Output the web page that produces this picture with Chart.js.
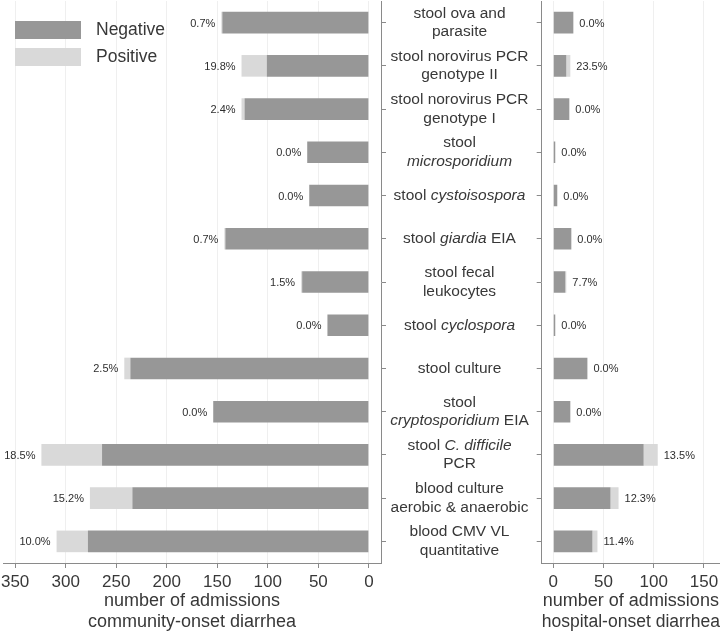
<!DOCTYPE html>
<html lang="en">
<head>
  <meta charset="UTF-8">
  <title>Diarrhea workup by onset</title>
  <script src="https://cdn.jsdelivr.net/npm/chart.js"></script>
  <style>
    html, body { margin: 0; padding: 0; background: #fff; }
    #wrap { position: relative; width: 720px; height: 633px; }
    #leftChart { position: absolute; left: 0; top: 0; }
    #rightChart { position: absolute; left: 387px; top: 0; }
  </style>
</head>
<body>
  <div id="wrap">
    <canvas id="leftChart" width="387" height="633"></canvas>
    <canvas id="rightChart" width="333" height="633"></canvas>
  </div>

  <script>
    // Test names, one entry per line, *...* marks italic text
    const tests = [
      ['stool ova and', 'parasite'],
      ['stool norovirus PCR', 'genotype II'],
      ['stool norovirus PCR', 'genotype I'],
      ['stool', '*microsporidium*'],
      ['stool *cystoisospora*'],
      ['stool *giardia* EIA'],
      ['stool fecal', 'leukocytes'],
      ['stool *cyclospora*'],
      ['stool culture'],
      ['stool', '*cryptosporidium* EIA'],
      ['stool *C. difficile*', 'PCR'],
      ['blood culture', 'aerobic & anaerobic'],
      ['blood CMV VL', 'quantitative']
    ];

    // Community-onset diarrhea (left panel)
    const communityNeg = [145, 101, 123, 61, 59, 142, 66, 41, 236, 154, 264, 234, 278];
    const communityPos = [1, 25, 3, 0, 0, 1, 1, 0, 6, 0, 60, 42, 31];
    const communityPct = ['0.7%', '19.8%', '2.4%', '0.0%', '0.0%', '0.7%', '1.5%', '0.0%', '2.5%', '0.0%', '18.5%', '15.2%', '10.0%'];

    // Hospital-onset diarrhea (right panel)
    const hospitalNeg = [20, 13, 16, 2, 4, 18, 12, 2, 34, 17, 90, 57, 39];
    const hospitalPos = [0, 4, 0, 0, 0, 0, 1, 0, 0, 0, 14, 8, 5];
    const hospitalPct = ['0.0%', '23.5%', '0.0%', '0.0%', '0.0%', '0.0%', '7.7%', '0.0%', '0.0%', '0.0%', '13.5%', '12.3%', '11.4%'];

    const seriesNames = ['Negative', 'Positive'];
    const seriesColors = ['#979797', '#d9d9d9'];

    const FONT = '"Liberation Sans", Arial, sans-serif';
    const TEXT = '#383838';
    const AXIS = '#8a8a8a';
    const GRID = '#efefef';

    // percent labels at the end of each bar
    const pctLabels = {
      id: 'pctLabels',
      afterDatasetsDraw(chart, args, opts) {
        const { ctx, scales: { x, y } } = chart;
        const neg = chart.data.datasets[0].data;
        const pos = chart.data.datasets[1].data;
        ctx.save();
        ctx.font = '11px ' + FONT;
        ctx.fillStyle = '#2e2e2e';
        ctx.textBaseline = 'middle';
        ctx.textAlign = opts.side === 'left' ? 'right' : 'left';
        opts.texts.forEach((t, i) => {
          const end = x.getPixelForValue(neg[i] + pos[i]);
          const px = opts.side === 'left' ? end - 6 : end + 6;
          ctx.fillText(t, px, y.getPixelForValue(i) + 1);
        });
        ctx.restore();
      }
    };

    // legend boxes in the top left corner
    const boxLegend = {
      id: 'boxLegend',
      afterDraw(chart) {
        const ctx = chart.ctx;
        ctx.save();
        ctx.font = '17.5px ' + FONT;
        ctx.textBaseline = 'middle';
        ctx.textAlign = 'left';
        chart.data.datasets.forEach((ds, i) => {
          const top = 21 + i * 27;
          ctx.fillStyle = ds.backgroundColor;
          ctx.fillRect(15, top, 66, 18);
          ctx.fillStyle = TEXT;
          ctx.fillText(ds.label, 96, top + 9);
        });
        ctx.restore();
      }
    };

    // category names between the two panels, with italic parts
    const testNames = {
      id: 'testNames',
      afterDraw(chart) {
        const { ctx, scales: { y } } = chart;
        const cx = 72.5;
        const lineGap = 18.5;
        ctx.save();
        ctx.fillStyle = TEXT;
        ctx.textBaseline = 'middle';
        ctx.textAlign = 'left';
        tests.forEach((lines, i) => {
          const yc = y.getPixelForTick(i);
          lines.forEach((line, k) => {
            const ly = yc + (k - (lines.length - 1) / 2) * lineGap;
            const parts = line.split('*').map((s, j) => ({ s, it: j % 2 === 1 })).filter(p => p.s);
            let w = 0;
            parts.forEach(p => {
              ctx.font = (p.it ? 'italic ' : '') + '15.5px ' + FONT;
              p.w = ctx.measureText(p.s).width;
              w += p.w;
            });
            let x = cx - w / 2;
            parts.forEach(p => {
              ctx.font = (p.it ? 'italic ' : '') + '15.5px ' + FONT;
              ctx.fillText(p.s, x, ly);
              x += p.w;
            });
          });
        });
        ctx.restore();
      }
    };

    function makeDatasets(neg, pos) {
      return [
        { label: seriesNames[0], data: neg, backgroundColor: seriesColors[0] },
        { label: seriesNames[1], data: pos, backgroundColor: seriesColors[1] }
      ];
    }

    function makeChart(canvasId, side, neg, pos, pct, xMin, xMax, title, extraPlugins, yWidth) {
      return new Chart(document.getElementById(canvasId), {
        type: 'bar',
        data: {
          labels: tests.map(t => t.join(' ').replace(/\*/g, '')),
          datasets: makeDatasets(neg, pos)
        },
        options: {
          responsive: false,
          animation: false,
          indexAxis: 'y',
          categoryPercentage: 1,
          barPercentage: 0.5,
          borderWidth: 0,
          layout: { padding: { top: 1, left: side === 'left' ? 3 : 0, right: 0, bottom: 0 } },
          scales: {
            x: {
              stacked: true,
              reverse: side === 'left',
              min: xMin,
              max: xMax,
              ticks: {
                stepSize: 50,
                includeBounds: false,
                color: TEXT,
                font: { family: FONT, size: 17 },
                padding: 4
              },
              grid: { color: GRID, tickColor: AXIS, tickLength: 5 },
              border: { color: AXIS },
              title: {
                display: true,
                text: title,
                color: TEXT,
                font: { family: FONT, size: 18, lineHeight: 1.2 },
                padding: { top: 0, bottom: 0 }
              },
              afterFit(scale) {
                scale.height = 70;
                scale.paddingLeft = 0;
                scale.paddingRight = 0;
              }
            },
            y: {
              stacked: true,
              position: side === 'left' ? 'right' : 'left',
              ticks: { display: false },
              grid: { offset: false, drawOnChartArea: false, tickColor: AXIS, tickLength: 5 },
              border: { color: AXIS },
              afterFit(scale) {
                scale.width = yWidth;
              }
            }
          },
          plugins: {
            legend: { display: false },
            tooltip: { enabled: false },
            pctLabels: { side: side, texts: pct }
          }
        },
        plugins: [pctLabels].concat(extraPlugins)
      });
    }

    makeChart('leftChart', 'left', communityNeg, communityPos, communityPct, -12, 362,
      ['number of admissions', 'community-onset diarrhea'], [boxLegend], 6);
    makeChart('rightChart', 'right', hospitalNeg, hospitalPos, hospitalPct, -11.5, 166,
      ['number of admissions', 'hospital-onset diarrhea'], [testNames], 154.7);
  </script>
</body>
</html>
